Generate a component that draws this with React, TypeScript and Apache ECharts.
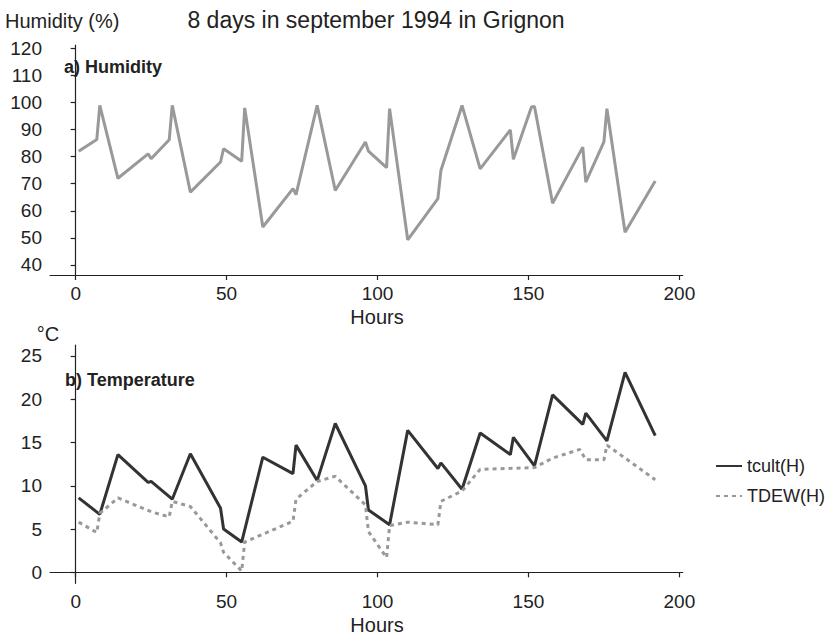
import React, { useEffect, useRef } from "react";
import * as echarts from "echarts";

// Humidity (%) vs hours
const humHours = [1, 7, 8, 14, 24, 25, 31, 32, 38, 48, 49, 55, 56, 62, 72, 73, 80, 86, 96, 97, 103, 104, 110, 120, 121, 128, 134, 144, 145, 151, 152, 158, 168, 169, 175, 176, 182, 192];
const humidity = [82, 86.3, 98.9, 72, 81, 79.2, 86.2, 98.9, 66.9, 78, 82.9, 78.3, 98, 54, 68.2, 66, 98.9, 67.5, 85.4, 82, 75.9, 97.7, 49.3, 64.5, 74.9, 98.9, 75.5, 89.9, 79, 98.3, 98.5, 62.8, 83.5, 70.6, 85.4, 97.7, 52.1, 71];

// Temperature tcult(H)
const tcultHours = [1, 8, 14, 24, 25, 32, 38, 48, 49, 55, 62, 72, 73, 80, 86, 96, 97, 104, 110, 120, 121, 128, 134, 144, 145, 152, 158, 168, 169, 176, 182, 192];
const tcult = [8.6, 6.7, 13.6, 10.4, 10.5, 8.45, 13.7, 7.4, 5.0, 3.5, 13.3, 11.4, 14.7, 10.6, 17.2, 10.0, 7.2, 5.5, 16.4, 12.0, 12.65, 9.6, 16.1, 13.6, 15.6, 12.3, 20.5, 17.1, 18.4, 15.2, 23.1, 15.8];

// Dew point TDEW(H)
const tdewHours = [1, 7, 8, 14, 25, 31, 32, 38, 48, 49, 55, 56, 72, 73, 80, 86, 96, 97, 103, 104, 110, 120, 121, 128, 134, 152, 158, 167, 169, 175, 176, 192];
const tdew = [5.8, 4.6, 6.8, 8.6, 7.0, 6.4, 8.2, 7.6, 3.4, 2.3, 0.15, 3.5, 5.9, 8.45, 10.5, 11.1, 7.8, 4.7, 1.7, 5.4, 5.8, 5.5, 8.2, 9.4, 11.9, 12.1, 13.2, 14.2, 13.0, 13.0, 14.7, 10.7];

const hourTicks = [0, 50, 100, 150, 200];
const humidityTicks = [40, 50, 60, 70, 80, 90, 100, 110, 120];
const tempTicks = [0, 5, 10, 15, 20, 25];

const FONT = "'Liberation Sans', Arial, Helvetica, sans-serif";
const INK = "#222";

export default function App() {
  const ref = useRef<HTMLDivElement>(null);
  useEffect(() => {
    const chart = echarts.init(ref.current!, null, { renderer: "svg" });
    const lineStyle = { color: INK, width: 1.2 };
    const xAxisFor = (gi: number) => ({
      type: "value",
      gridIndex: gi,
      min: -8.5,
      max: 201.1,
      axisLine: { show: true, lineStyle },
      axisTick: { show: true, length: 5, inside: false, customValues: hourTicks, lineStyle },
      axisLabel: { customValues: hourTicks, fontSize: 19, color: INK, margin: 9, fontFamily: FONT },
      splitLine: { show: false },
    });
    const yAxisFor = (gi: number, min: number, max: number, ticks: number[]) => ({
      type: "value",
      gridIndex: gi,
      min,
      max,
      axisLine: { show: true, lineStyle },
      axisTick: { show: true, length: 5, customValues: ticks, lineStyle },
      axisLabel: { customValues: ticks, fontSize: 19, color: INK, margin: 8, fontFamily: FONT },
      splitLine: { show: false },
    });
    const txt = (text: string, x: number, y: number, size: number, align = "left", bold = false) => ({
      type: "text",
      x,
      y,
      style: {
        text,
        fontSize: size,
        fontWeight: bold ? "bold" : "normal",
        fill: INK,
        fontFamily: FONT,
        align,
        verticalAlign: "middle",
      },
    });
    chart.setOption({
      animation: false,
      backgroundColor: "#fff",
      grid: [
        { left: 50, top: 45, width: 632.7, height: 230 },
        { left: 50, top: 345, width: 632.7, height: 238.3 },
      ],
      xAxis: [xAxisFor(0), xAxisFor(1)],
      yAxis: [
        yAxisFor(0, 36.3, 121.2, humidityTicks),
        yAxisFor(1, -1.27, 26.27, tempTicks),
      ],
      legend: {
        orient: "vertical",
        left: 710,
        top: 452,
        itemWidth: 26,
        itemHeight: 14,
        itemGap: 12,
        itemTextGap: 11,
        itemStyle: { opacity: 0 },
        textStyle: { fontSize: 18, color: INK, fontFamily: FONT },
        data: ["tcult(H)", "TDEW(H)"],
      },
      graphic: [
        txt("8 days in september 1994 in Grignon", 376, 20, 23, "center"),
        txt("Humidity (%)", 5, 21, 20),
        txt("a) Humidity", 64, 67, 18, "left", true),
        txt("Hours", 377, 317, 20, "center"),
        txt("°C", 48, 334, 20, "center"),
        txt("b) Temperature", 65, 380, 18, "left", true),
        txt("Hours", 377, 625, 20, "center"),
      ],
      series: [
        {
          name: "Humidity",
          type: "line",
          xAxisIndex: 0,
          yAxisIndex: 0,
          symbol: "none",
          data: humHours.map((h, i) => [h, humidity[i]]),
          lineStyle: { color: "#999", width: 3 },
          itemStyle: { color: "#999" },
        },
        {
          name: "tcult(H)",
          type: "line",
          xAxisIndex: 1,
          yAxisIndex: 1,
          symbol: "none",
          data: tcultHours.map((h, i) => [h, tcult[i]]),
          lineStyle: { color: "#333", width: 3 },
          itemStyle: { color: "#333" },
        },
        {
          name: "TDEW(H)",
          type: "line",
          xAxisIndex: 1,
          yAxisIndex: 1,
          symbol: "none",
          data: tdewHours.map((h, i) => [h, tdew[i]]),
          lineStyle: { color: "#999", width: 3, type: [4, 4] },
          itemStyle: { color: "#999" },
        },
      ],
    });
    return () => chart.dispose();
  }, []);
  return (
    <div
      ref={ref}
      style={{ position: "fixed", left: 0, top: 0, width: 830, height: 636, background: "#fff" }}
    />
  );
}
